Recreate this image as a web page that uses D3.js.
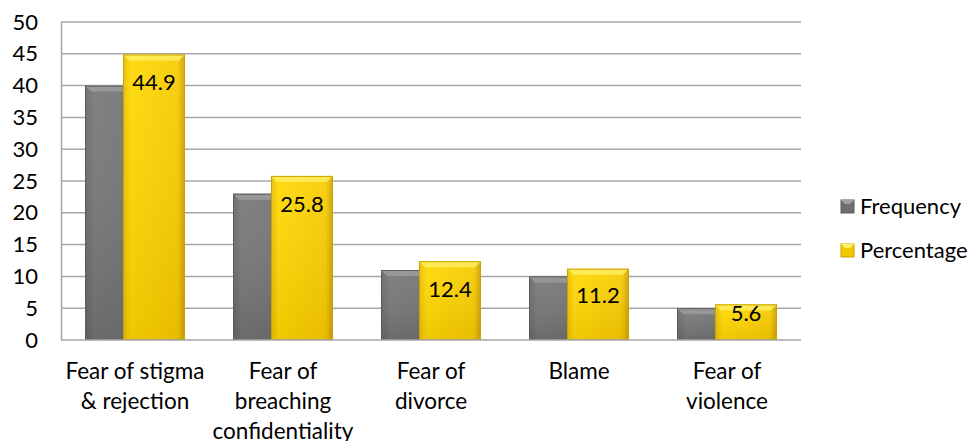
<!DOCTYPE html>
<html>
<head>
<meta charset="utf-8">
<script src="https://cdn.jsdelivr.net/npm/d3@7"></script>
<style>
  body { margin: 0; background: #fff; }
  text { font-family: Lato, "Open Sans", sans-serif; fill: #000; }
</style>
</head>
<body>
<div id="chart"></div>
<script>
var categories = [["Fear of stigma", "& rejection"], ["Fear of", "breaching", "confidentiality"], ["Fear of", "divorce"], ["Blame"], ["Fear of", "violence"]];
var frequency = [40, 23, 11, 10, 5];
var percentage = [44.9, 25.8, 12.4, 11.2, 5.6];
var seriesNames = ["Frequency", "Percentage"];
var yTicks = [0, 5, 10, 15, 20, 25, 30, 35, 40, 45, 50];

var width = 974, height = 441;
var margin = { left: 61, right: 173, top: 22, bottom: 101 };

var svg = d3.select("#chart").append("svg")
  .attr("width", width)
  .attr("height", height);

var defs = svg.append("defs");
function grad(id, stops, vertical) {
  var g = defs.append("linearGradient").attr("id", id)
    .attr("x1", 0).attr("y1", 0)
    .attr("x2", vertical ? 0 : 1).attr("y2", vertical ? 1 : 0);
  stops.forEach(function(s) {
    g.append("stop").attr("offset", s[0]).attr("stop-color", s[1]);
  });
}
grad("grayBody", [[0, "#6a6a6a"], [0.15, "#7a7a7a"], [0.85, "#747474"], [1, "#5a5a5a"]], false);
grad("yellowBody", [[0, "#e6bd00"], [0.12, "#ffd800"], [0.88, "#f7cb00"], [1, "#c9a000"]], false);
grad("grayV", [[0, "rgba(255,255,255,0.05)"], [1, "rgba(0,0,0,0.12)"]], true);
grad("yellowV", [[0, "rgba(255,255,255,0.08)"], [1, "rgba(120,80,0,0.12)"]], true);

var x = d3.scaleBand()
  .domain(d3.range(categories.length))
  .range([margin.left, width - margin.right]);

var y = d3.scaleLinear()
  .domain([0, 50])
  .range([height - margin.bottom, margin.top]);

var g = svg.append("g");

// gridlines
g.selectAll(".grid")
  .data(yTicks.filter(function(d) { return d > 0; }))
  .enter().append("line")
  .attr("x1", margin.left).attr("x2", width - margin.right)
  .attr("y1", function(d) { return y(d); })
  .attr("y2", function(d) { return y(d); })
  .attr("stroke", "#a6a6a6")
  .attr("stroke-width", 1.5);

// y axis
var yAxis = d3.axisLeft(y).tickValues(yTicks).tickSize(0).tickPadding(23);
var ya = svg.append("g")
  .attr("transform", "translate(" + margin.left + ",0)")
  .call(yAxis);
ya.select(".domain").attr("stroke", "#a6a6a6").attr("stroke-width", 1.5);
ya.selectAll("text")
  .style("font-family", "Lato, 'Open Sans', sans-serif")
  .style("font-size", "22px")
  .attr("fill", "#000");

var barW = 62;
var overlap = 24;
var groupW = barW * 2 - overlap;

function drawBar(sel, xPos, val, kind) {
  var top = y(val), bottom = y(0);
  var h = bottom - top;
  var bg = sel.append("g");
  bg.append("rect")
    .attr("x", xPos).attr("y", top).attr("width", barW).attr("height", h)
    .attr("fill", "url(#" + kind + "Body)");
  bg.append("rect")
    .attr("x", xPos).attr("y", top).attr("width", barW).attr("height", h)
    .attr("fill", "url(#" + kind + "V)");
  // bevel top
  var b = 6;
  bg.append("path")
    .attr("d", "M" + xPos + "," + top + "L" + (xPos + barW) + "," + top +
      "L" + (xPos + barW - b) + "," + (top + b) + "L" + (xPos + b) + "," + (top + b) + "Z")
    .attr("fill", kind === "gray" ? "#a0a0a0" : "#fff06a")
    .attr("opacity", 0.75);
  bg.append("rect")
    .attr("x", xPos + 0.5).attr("y", top + 0.5).attr("width", barW - 1).attr("height", h - 1)
    .attr("fill", "none")
    .attr("stroke", kind === "gray" ? "#5e5e5e" : "#c9a200")
    .attr("stroke-width", 1);
  return { top: top, h: h };
}

var bars = svg.append("g");
categories.forEach(function(c, i) {
  var cx = x(i) + x.bandwidth() / 2;
  var start = cx - groupW / 2;
  drawBar(bars, start, frequency[i], "gray");
  var r = drawBar(bars, start + barW - overlap, percentage[i], "yellow");
  var base = Math.min(r.top + 36, r.top + r.h * 0.48);
  bars.append("text")
    .attr("x", start + barW - overlap + barW / 2)
    .attr("y", base)
    .attr("text-anchor", "middle")
    .style("font-size", "22px")
    .text(percentage[i]);
});

// bottom axis line
svg.append("line")
  .attr("x1", margin.left).attr("x2", width - margin.right)
  .attr("y1", y(0)).attr("y2", y(0))
  .attr("stroke", "#a6a6a6").attr("stroke-width", 1.5);

// category labels
var xl = svg.append("g");
categories.forEach(function(lines, i) {
  var t = xl.append("text")
    .attr("x", x(i) + x.bandwidth() / 2)
    .attr("y", 379)
    .attr("text-anchor", "middle")
    .style("font-size", "22.5px");
  lines.forEach(function(l, j) {
    t.append("tspan")
      .attr("x", x(i) + x.bandwidth() / 2)
      .attr("dy", j === 0 ? 0 : 30)
      .text(l);
  });
});

// legend
var legend = svg.append("g");
seriesNames.forEach(function(name, i) {
  var ly = 206 + i * 44;
  var kind = i === 0 ? "gray" : "yellow";
  legend.append("rect")
    .attr("x", 841).attr("y", ly - 6).attr("width", 13).attr("height", 13)
    .attr("fill", i === 0 ? "#6e6e6e" : "#f2c800")
    .attr("stroke", kind === "gray" ? "#5a5a5a" : "#c9a200");
  legend.append("path")
    .attr("d", "M841," + (ly - 6) + "l13,0l-4,4l-5,0z")
    .attr("fill", kind === "gray" ? "#a0a0a0" : "#fff06a");
  legend.append("text")
    .attr("x", 860).attr("y", ly + 8)
    .style("font-size", "22px")
    .text(name);
});
</script>
</body>
</html>
